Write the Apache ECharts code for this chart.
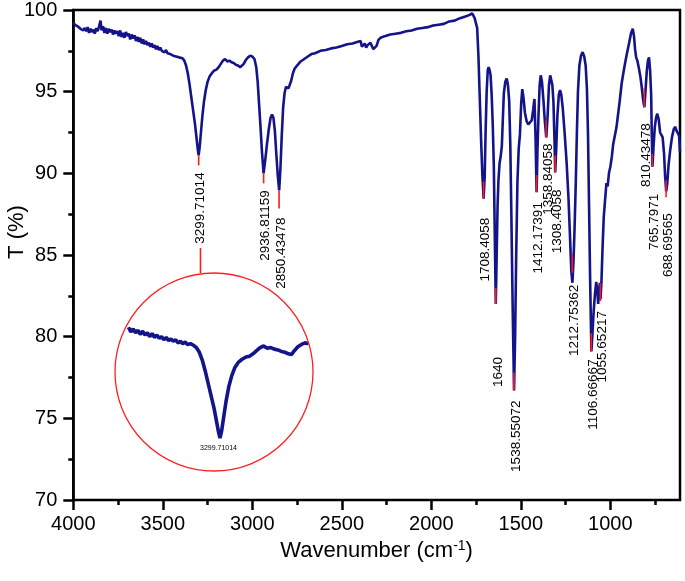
<!DOCTYPE html>
<html>
<head>
<meta charset="utf-8">
<script src="https://cdn.jsdelivr.net/npm/echarts@6/dist/echarts.min.js"></script>
<style>html,body{margin:0;padding:0;background:#fff;}#chart{width:685px;height:581px;}</style>
</head>
<body>
<div id="chart"></div>
<script>
// ---- data ----
const wavenumber = [4000,3992,3984,3976,3968,3960,3952,3944,3936,3928,3920,3912,3904,3896,3888,3880,3872,3864,3856,3848,3842,3834,3826,3818,3810,3802,3794,3786,3778,3770,3762,3754,3746,3738,3730,3722,3714,3706,3698,3690,3682,3674,3666,3658,3650,3642,3634,3626,3618,3610,3602,3594,3586,3578,3570,3562,3554,3546,3538,3530,3522,3514,3506,3498,3490,3482,3474,3466,3458,3450,3442,3434,3426,3418,3410,3400,3390,3380,3370,3360,3350,3340,3330,3320,3312,3305,3300,3294,3287,3279,3270,3260,3250,3238,3225,3212,3200,3188,3176,3164,3152,3140,3128,3116,3104,3092,3080,3068,3058,3048,3036,3024,3012,3000,2988,2978,2970,2962,2954,2946,2937,2928,2918,2908,2898,2890,2882,2874,2866,2858,2850,2843,2836,2828,2820,2812,2805,2798,2790,2782,2774,2764,2750,2730,2710,2690,2670,2650,2620,2590,2560,2530,2500,2470,2440,2410,2395,2388,2380,2372,2364,2356,2348,2340,2332,2324,2316,2306,2296,2284,2260,2230,2200,2170,2140,2110,2080,2050,2020,1990,1960,1930,1900,1870,1840,1810,1785,1772,1765,1758,1751,1744,1737,1730,1722,1715,1708,1702,1697,1691,1685,1680,1675,1669,1663,1657,1651,1646,1640,1635,1630,1625,1619,1612,1606,1601,1595,1587,1579,1572,1565,1559,1553,1546,1538,1532,1526,1519,1512,1505,1498,1492,1485,1477,1468,1458,1448,1439,1431,1424,1418,1412,1407,1401,1395,1389,1382,1374,1366,1358,1350,1343,1336,1331,1324,1318,1312,1308,1302,1296,1288,1281,1274,1266,1255,1244,1234,1225,1218,1212,1206,1200,1193,1187,1181,1173,1164,1155,1146,1138,1131,1125,1119,1113,1106,1100,1093,1086,1079,1073,1068,1063,1059,1055,1050,1044,1037,1030,1022,1015,1008,1000,992,984,975,966,957,947,937,922,908,895,884,875,868,862,856,849,840,832,825,817,810,804,797,790,784,778,772,769,765,759,752,745,738,730,722,715,708,700,694,688,682,675,666,656,646,638,630,622,616,611];
const transmittance = [99.25,99.1,99.2,99.0,99.05,98.85,98.95,98.75,98.9,98.7,98.95,98.6,98.85,98.65,98.8,98.55,98.9,98.7,99.0,99.35,98.75,99.0,98.6,98.9,98.55,98.85,98.65,98.8,98.5,98.75,98.55,98.7,98.4,98.75,98.35,98.6,98.3,98.65,98.4,98.55,98.2,98.5,98.25,98.45,98.1,98.35,98.05,98.3,97.95,98.2,97.9,98.1,97.85,98.0,97.75,97.95,97.7,97.85,97.6,97.8,97.55,97.7,97.5,97.6,97.4,97.55,97.35,97.45,97.3,97.4,97.2,97.3,97.15,97.25,97.1,97.15,97.05,96.9,96.6,96.1,95.4,94.6,93.8,93.0,92.2,91.5,91.1,91.6,92.5,93.5,94.4,95.1,95.6,95.95,96.15,96.3,96.35,96.5,96.7,96.9,97.0,96.85,96.9,96.8,96.75,96.65,96.6,96.5,96.45,96.7,96.95,97.1,97.2,97.15,97.0,96.5,95.6,94.2,92.8,91.3,90.0,90.8,91.8,92.7,93.4,93.6,93.4,92.6,91.2,89.9,88.95,90.3,92.2,94.0,94.9,95.3,95.4,95.2,95.2,95.7,96.1,96.4,96.6,96.85,97.0,97.15,97.3,97.35,97.5,97.55,97.65,97.7,97.8,97.9,97.95,98.05,98.1,97.75,97.65,97.95,97.7,97.85,97.75,98.0,97.95,97.6,97.5,97.8,98.15,98.3,98.4,98.5,98.55,98.6,98.7,98.75,98.85,98.9,98.95,99.05,99.1,99.15,99.3,99.35,99.5,99.6,99.7,99.8,99.78,99.5,99.2,98.9,97.2,94.8,92.0,89.9,88.45,89.8,92.5,95.0,96.3,96.5,96.35,96.0,94.8,93.0,90.5,86.5,82.0,85.0,88.0,89.6,90.6,91.1,91.7,93.2,94.9,95.6,95.8,95.4,94.4,91.8,87.5,82.0,76.7,80.0,85.0,89.5,91.5,92.4,94.3,95.15,94.6,93.7,93.2,93.0,93.1,93.25,93.9,94.55,92.2,88.85,91.5,93.7,95.4,96.0,95.6,94.5,93.2,92.2,93.6,95.4,96.0,96.1,95.4,94.4,92.0,90.05,91.6,93.5,94.8,95.1,94.8,94.0,92.4,90.6,88.5,86.0,84.0,83.3,84.6,86.6,89.5,92.5,95.0,96.6,97.2,97.42,97.15,96.6,95.2,92.5,88.0,83.5,79.1,80.2,81.6,82.6,83.35,82.8,82.0,82.8,83.3,82.3,83.3,85.3,87.3,88.3,89.4,89.2,90.0,90.4,91.0,91.8,92.3,92.8,93.6,94.5,95.5,96.5,97.3,98.0,98.6,98.85,98.4,97.6,97.1,96.9,96.4,95.9,95.3,94.5,94.05,95.0,96.2,96.9,97.1,96.3,94.8,92.6,90.4,91.6,92.8,93.4,93.65,93.3,92.5,92.4,92.2,91.2,89.8,88.9,89.4,90.5,91.4,92.2,92.7,92.85,92.6,92.7,92.3,91.3];

const peakWavenumber = [3299.71014,2936.81159,2850.43478,1708.4058,1640,1538.55072,1412.17391,1358.84058,1308.4058,1212.75362,1106.66667,1055.65217,810.43478,765.7971,688.69565];
const peakTransmittance = [91.1,90.0,88.95,88.45,82.0,76.7,88.85,92.2,90.05,83.3,79.1,82.3,94.05,90.4,88.9];
const peakLabel = ['3299.71014','2936.81159','2850.43478','1708.4058','1640','1538.55072','1412.17391','1358.84058','1308.4058','1212.75362','1106.66667','1055.65217','810.43478','765.7971','688.69565'];

const xRange = [611, 4000];          // plotted wavenumber span
const majorTickRange = [1000, 4000]; // labelled ticks, every 500
const minorTickRange = [750, 4000];  // small ticks, every 250
const majorInterval = 500;
const minorInterval = 250;
const insetRange = [2995, 3615];
const insetPeakLabel = '3299.71014';

// ---- presentation (not data) ----
const labelGap = [17,17,27,19,53,10,10,6,17,2,8,12,16,27,22];
const markerSpan = [[0,10],[0,10],[0,18],[17,0],[16,0],[18,0],[17,0],[18,0],[17,0],[29,-10],[18,0],[16,2],[19,0],[13,0],[11,6]];

const FONT = 'Arial, "Liberation Sans", sans-serif';
const LINE = '#14148a';
const PLOT = {left: 73.3, right: 5, top: 9.5, bottom: 81};
const pxPerUnit = (685 - PLOT.left - PLOT.right) / (xRange[1] - xRange[0]);
const subGrid = lo => ({left: PLOT.left, right: PLOT.right + (lo - xRange[0]) * pxPerUnit, top: PLOT.top, bottom: PLOT.bottom, show: false});
// the title sits on the shorter tick axis; shift it back to the centre of the full plot
const titleShift = (majorTickRange[0] - xRange[0]) * pxPerUnit;

const mainData = wavenumber.map((w, i) => [w, transmittance[i]]);
const insetData = mainData.filter(d => d[0] >= insetRange[0] && d[0] <= insetRange[1]);
const peakData = peakWavenumber.map((w, i) => [w, peakTransmittance[i]]);

const chart = echarts.init(document.getElementById('chart'), null, {renderer: 'canvas'});
chart.setOption({
  animation: false,
  backgroundColor: '#fff',
  grid: [
    Object.assign({show: true, borderColor: '#000', borderWidth: 2.5, backgroundColor: 'transparent'}, PLOT),
    {left: 127, width: 183, top: 322.6, height: 124.8, show: false},
    subGrid(majorTickRange[0]),
    subGrid(minorTickRange[0])
  ],
  xAxis: [
    {type: 'value', gridIndex: 0, min: xRange[0], max: xRange[1], inverse: true, show: false},
    {type: 'value', gridIndex: 1, min: insetRange[0], max: insetRange[1], inverse: true, show: false},
    {
      type: 'value', gridIndex: 2, min: majorTickRange[0], max: majorTickRange[1], interval: majorInterval, inverse: true, position: 'bottom',
      axisLine: {show: false, onZero: false},
      axisTick: {show: true, inside: false, length: 10, lineStyle: {color: '#000', width: 2.5}},
      axisLabel: {show: true, formatter: v => String(v), fontSize: 20, fontFamily: FONT, color: '#000', margin: 14},
      splitLine: {show: false},
      name: 'Wavenumber (cm{sup|-1})',
      nameLocation: 'middle', nameGap: 39,
      nameTextStyle: {fontSize: 22, fontFamily: FONT, color: '#000', padding: [0, 0, 0, titleShift],
        rich: {sup: {fontSize: 14, fontFamily: FONT, color: '#000', verticalAlign: 'top', padding: [0, 0, 9, 0]}}}
    },
    {
      type: 'value', gridIndex: 3, min: minorTickRange[0], max: minorTickRange[1], interval: minorInterval, inverse: true, position: 'bottom',
      axisLine: {show: false, onZero: false},
      axisTick: {show: true, inside: false, length: 5, lineStyle: {color: '#000', width: 2.5}},
      axisLabel: {show: false},
      splitLine: {show: false}
    }
  ],
  yAxis: [
    {
      type: 'value', gridIndex: 0, min: 70, max: 100, interval: 5,
      axisLine: {show: true, onZero: false, lineStyle: {color: '#000', width: 2.5}},
      axisTick: {show: true, inside: false, length: 10, lineStyle: {color: '#000', width: 2.5}},
      minorTick: {show: true, splitNumber: 2, length: 5, lineStyle: {color: '#000', width: 2.5}},
      axisLabel: {fontSize: 20, fontFamily: FONT, color: '#000', margin: 16},
      splitLine: {show: false}
    },
    {type: 'value', gridIndex: 1, min: 90.5, max: 98.5, show: false},
    {type: 'value', gridIndex: 2, min: 70, max: 100, show: false},
    {type: 'value', gridIndex: 3, min: 70, max: 100, show: false}
  ],
  series: [
    {
      type: 'line', xAxisIndex: 0, yAxisIndex: 0, data: mainData, showSymbol: false,
      lineStyle: {color: LINE, width: 2.6}, z: 3
    },
    {
      type: 'line', xAxisIndex: 1, yAxisIndex: 1, data: insetData, showSymbol: false,
      lineStyle: {color: LINE, width: 3.6}, z: 3
    },
    {type: 'line', xAxisIndex: 2, yAxisIndex: 2, data: [], showSymbol: false, silent: true},
    {type: 'line', xAxisIndex: 3, yAxisIndex: 3, data: [], showSymbol: false, silent: true},
    {
      type: 'custom', xAxisIndex: 0, yAxisIndex: 0, data: peakData, clip: false, z: 5,
      renderItem: function (params, api) {
        const i = params.dataIndex;
        const p = api.coord([api.value(0), api.value(1)]);
        const span = markerSpan[i];
        return {
          type: 'group',
          children: [
            {type: 'line', shape: {x1: p[0], y1: p[1] - span[0], x2: p[0], y2: p[1] + span[1]},
              style: {stroke: '#ff1a1a', lineWidth: 1.6}},
            {type: 'text', x: p[0] + 2, y: p[1] + labelGap[i], rotation: Math.PI / 2,
              style: {text: peakLabel[i], x: 0, y: 0, align: 'right', verticalAlign: 'middle',
                fontSize: 13.5, fontFamily: FONT, fill: '#000'}}
          ]
        };
      }
    }
  ],
  graphic: [
    {type: 'circle', shape: {cx: 214, cy: 372, r: 99}, style: {fill: 'none', stroke: '#ff2020', lineWidth: 1.3}, z: 10},
    {type: 'line', shape: {x1: 200.5, y1: 248, x2: 200.5, y2: 273}, style: {stroke: '#ff2020', lineWidth: 1.6}, z: 10},
    {type: 'text', x: 218.5, y: 448, style: {text: insetPeakLabel, align: 'center', verticalAlign: 'middle', fontSize: 7, fontFamily: FONT, fill: '#000'}, z: 10},
    {type: 'text', x: 17, y: 232, rotation: Math.PI / 2, style: {text: 'T (%)', align: 'center', verticalAlign: 'middle', fontSize: 22, fontFamily: FONT, fill: '#000'}, z: 10}
  ]
});
</script>
</body>
</html>
